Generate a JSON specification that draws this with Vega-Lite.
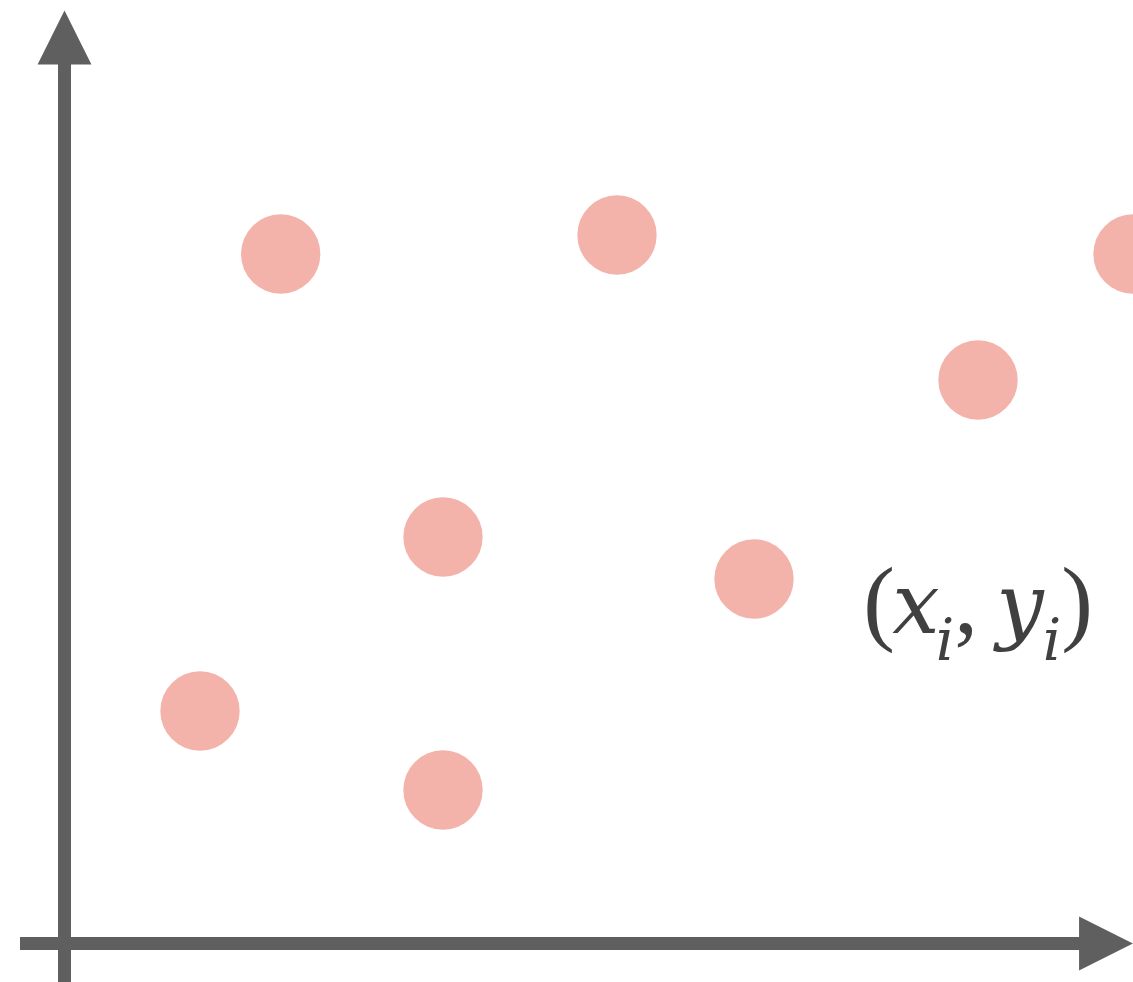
{
  "$schema": "https://vega.github.io/schema/vega-lite/v6.json",
  "width": 1133,
  "height": 982,
  "autosize": {"type": "fit", "contains": "padding"},
  "padding": 0,
  "background": "white",
  "config": {"view": {"stroke": null}},
  "datasets": {
    "points": [
      {"x": 2.162, "y": 6.895},
      {"x": 5.525, "y": 7.085},
      {"x": 10.685, "y": 6.895},
      {"x": 9.135, "y": 5.635},
      {"x": 3.785, "y": 4.065},
      {"x": 6.895, "y": 3.645},
      {"x": 1.355, "y": 2.325},
      {"x": 3.785, "y": 1.535}
    ],
    "axes": [
      {"axis": "y", "x": 0, "x2": 0, "y": -0.5, "y2": 8.9},
      {"axis": "x", "x": -0.445, "x2": 10.2, "y": 0, "y2": 0}
    ],
    "upright": [
      {"x": 8.145, "y": 3.105, "t": "("},
      {"x": 9.015, "y": 3.105, "t": ","},
      {"x": 10.125, "y": 3.105, "t": ")"}
    ],
    "italic": [
      {"x": 8.515, "y": 3.105, "t": "x"},
      {"x": 9.555, "y": 3.105, "t": "y"}
    ],
    "subscript": [
      {"x": 8.805, "y": 2.835, "t": "i"},
      {"x": 9.875, "y": 2.835, "t": "i"}
    ]
  },
  "encoding": {
    "x": {"field": "x", "type": "quantitative", "scale": {"domain": [-0.645, 10.685], "nice": false, "zero": false}, "axis": null},
    "y": {"field": "y", "type": "quantitative", "scale": {"domain": [-0.385, 9.435], "nice": false, "zero": false}, "axis": null}
  },
  "layer": [
    {
      "data": {"name": "points"},
      "mark": {"type": "point", "shape": "circle", "filled": true, "size": 6300, "color": "#F4B3AA", "opacity": 1, "clip": true}
    },
    {
      "data": {"name": "axes"},
      "mark": {"type": "rule", "color": "#5F5F5F", "strokeWidth": 13, "strokeCap": "butt", "clip": true},
      "encoding": {"x2": {"field": "x2"}, "y2": {"field": "y2"}}
    },
    {
      "data": {"values": [{"x": 0, "y": 9.06}]},
      "mark": {"type": "point", "shape": "M-1,1L0,-1L1,1Z", "filled": true, "size": 2900, "color": "#5F5F5F", "opacity": 1, "clip": true}
    },
    {
      "data": {"values": [{"x": 10.415, "y": 0}]},
      "mark": {"type": "point", "shape": "M-1,-1L1,0L-1,1Z", "filled": true, "size": 2900, "color": "#5F5F5F", "opacity": 1, "clip": true}
    },
    {
      "data": {"name": "upright"},
      "mark": {"type": "text", "font": "Liberation Serif", "fontSize": 95, "align": "center", "baseline": "alphabetic", "color": "#404040", "clip": true},
      "encoding": {"text": {"field": "t"}}
    },
    {
      "data": {"name": "italic"},
      "mark": {"type": "text", "font": "DejaVu Serif", "fontStyle": "italic", "fontSize": 84, "align": "center", "baseline": "alphabetic", "color": "#404040", "clip": true},
      "encoding": {"text": {"field": "t"}}
    },
    {
      "data": {"name": "subscript"},
      "mark": {"type": "text", "font": "DejaVu Serif", "fontStyle": "italic", "fontSize": 58, "align": "center", "baseline": "alphabetic", "color": "#404040", "clip": true},
      "encoding": {"text": {"field": "t"}}
    }
  ]
}
